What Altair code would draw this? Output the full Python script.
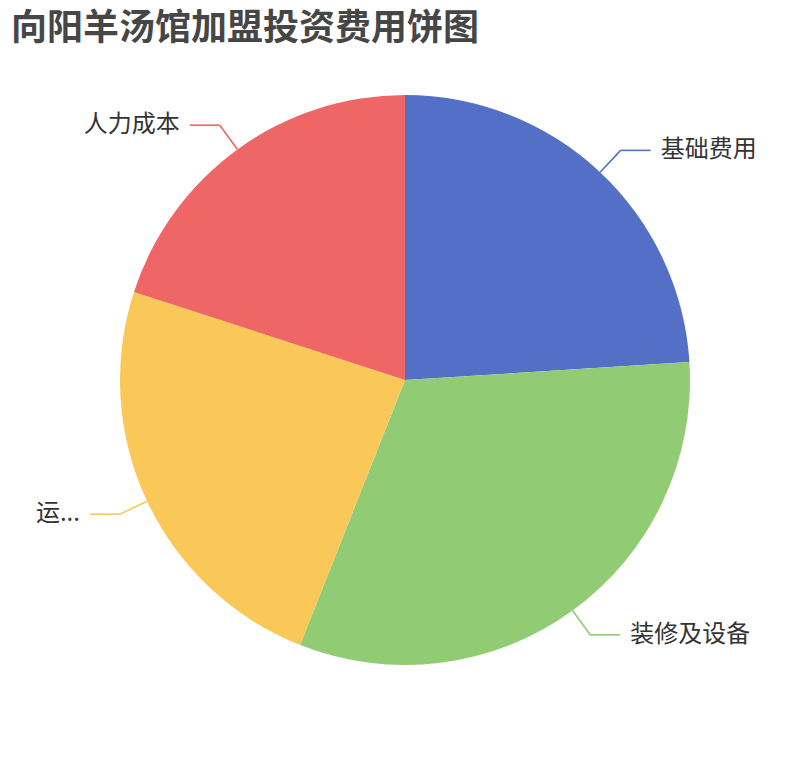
import altair as alt
import pandas as pd

title_text = ["向阳羊汤馆加盟投资费用饼图"]
categories = ["基础费用", "装修及设备", "运...", "人力成本"]
values = [24, 32, 24, 20]
colors = ["#5470c6", "#91cc75", "#fac858", "#ee6666"]

df = pd.DataFrame({"name": categories, "value": values, "idx": list(range(len(categories)))})

W, H = 794, 744
R = 285
R2 = 315
L2 = 30
FONT = "Noto Sans CJK SC"

xs = alt.Scale(domain=[-W / 2, W / 2], nice=False, zero=False)
ys = alt.Scale(domain=[-H / 2, H / 2], nice=False, zero=False)
cs = alt.Scale(domain=categories, range=colors)

base = alt.Chart(df)

pie = base.mark_arc(outerRadius=R).encode(
    theta=alt.Theta("value:Q", stack=True),
    color=alt.Color("name:N", scale=cs, legend=None),
    order=alt.Order("idx:Q"),
)

geo = (
    base.transform_joinaggregate(total="sum(value)")
    .transform_window(cum="sum(value)", sort=[alt.SortField("idx")], frame=[None, 0])
    .transform_calculate(mid="(datum.cum - datum.value/2)/datum.total*2*PI")
    .transform_calculate(s="sin(datum.mid)")
    .transform_calculate(c="cos(datum.mid)")
    .transform_calculate(x0=f"{R}*datum.s")
    .transform_calculate(y0=f"{R}*datum.c")
    .transform_calculate(x1=f"{R2}*datum.s")
    .transform_calculate(y1=f"{R2}*datum.c")
    .transform_calculate(side="datum.s >= 0 ? 1 : -1")
    .transform_calculate(x2=f"datum.x1 + datum.side*{L2}")
    .transform_calculate(xt=f"datum.x1 + datum.side*{L2 + 10}")
)

seg1 = geo.mark_rule(strokeWidth=1.6).encode(
    x=alt.X("x0:Q", scale=xs, axis=None),
    y=alt.Y("y0:Q", scale=ys, axis=None),
    x2="x1:Q",
    y2="y1:Q",
    color=alt.Color("name:N", scale=cs, legend=None),
)
seg2 = geo.mark_rule(strokeWidth=1.6).encode(
    x=alt.X("x1:Q", scale=xs, axis=None),
    y=alt.Y("y1:Q", scale=ys, axis=None),
    x2="x2:Q",
    y2="y1:Q",
    color=alt.Color("name:N", scale=cs, legend=None),
)

lab_r = geo.transform_filter("datum.side > 0").mark_text(
    align="left", baseline="middle", font=FONT, fontSize=24, color="#333333"
).encode(
    x=alt.X("xt:Q", scale=xs, axis=None),
    y=alt.Y("y1:Q", scale=ys, axis=None),
    text="name:N",
)
lab_l = geo.transform_filter("datum.side < 0").mark_text(
    align="right", baseline="middle", font=FONT, fontSize=24, color="#333333"
).encode(
    x=alt.X("xt:Q", scale=xs, axis=None),
    y=alt.Y("y1:Q", scale=ys, axis=None),
    text="name:N",
)

title = alt.Chart(pd.DataFrame({"t": title_text})).mark_text(
    align="left", baseline="middle", font=FONT, fontSize=36, fontWeight="bold", color="#464646"
).encode(text="t:N", x=alt.value(3), y=alt.value(21))

chart = (
    alt.layer(pie, seg1, seg2, lab_r, lab_l, title)
    .properties(width=W, height=H, padding=0, autosize=alt.AutoSizeParams(type="none"))
    .configure_view(stroke=None)
)

chart.save("out.html", embed_options={"renderer": "svg", "actions": False})
